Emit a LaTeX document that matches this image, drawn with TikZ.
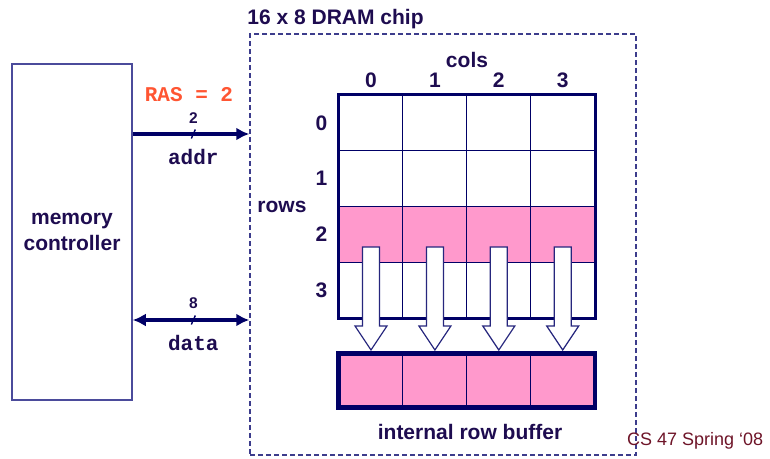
\documentclass[tikz,border=0pt]{standalone}
\usepackage{fontspec}
\setmainfont{Liberation Sans}
\setmonofont{Liberation Mono}
\usepackage{tikz}
\usetikzlibrary{arrows.meta}
\usetikzlibrary{positioning,calc}
\definecolor{chipnavy}{RGB}{0,0,102}
\definecolor{textnavy}{RGB}{30,12,80}
\definecolor{cellpink}{RGB}{255,153,204}
\definecolor{rasred}{RGB}{255,85,50}
\definecolor{boxblue}{RGB}{75,75,155}
\definecolor{dashblue}{RGB}{60,60,140}
\definecolor{footred}{RGB}{110,20,40}
\tikzset{
	every node/.style={font=\bfseries\fontsize{21}{26}\selectfont,text=textnavy,inner sep=0pt}
}
\tikzset{
	cell/.style={draw=chipnavy,line width=1pt,minimum width=63.9pt,minimum height=55.75pt},
	hot/.style={fill=cellpink}
}
\tikzset{
	bus/.style={draw=chipnavy,line width=3.5pt,>={Latex[length=13pt,width=13pt]}},
	tick/.style={draw=chipnavy,line width=1.4pt},
	wires/.style={font=\bfseries\fontsize{15.5}{17}\selectfont},
	sig/.style={font=\ttfamily\bfseries\fontsize{21}{24}\selectfont},
	pump/.style={draw=chipnavy!85!white,line width=1.2pt,fill=white,line join=miter}
}

\begin{document}
\begin{tikzpicture}[x=1pt,y=-1pt]
	\useasboundingbox (0,0) rectangle (770,458);
	\node[draw=boxblue,line width=1.5pt,minimum width=120pt,minimum height=336pt,align=center] (mc) at (72,232) {memory\\controller};
	\node[draw=dashblue,line width=1.5pt,dash pattern=on 5pt off 3pt,minimum width=386pt,minimum height=421pt] (chip) at (443,244.5) {};
	\node[anchor=base west] (title) at ([xshift=-2pt,yshift=9pt]chip.north west) {16 x 8 DRAM chip};
	\foreach \r/\f in {0/white,1/white,2/cellpink,3/white}
		\foreach \c in {0,...,3}
			\node[cell,fill=\f] (c\r\c) at ({371+63.9*\c},{122.9+55.75*\r}) {};
	\draw[chipnavy,line width=3.3pt] (c00.north west) rectangle (c33.south east);
	\foreach \c in {0,...,3}
		\node[cell,hot,minimum height=53pt] (b\c) at ({371+63.9*\c},380.5) {};
	\draw[chipnavy,line width=4.5pt] (b0.north west) rectangle (b3.south east);
	\foreach \c in {0,...,3}
		\node (k\c) [above=7pt of c0\c] {\c};
	\foreach \r in {0,...,3}
		\node (r\r) [left=11pt of c\r0] {\r};
	\node (cols) at (467,60) {cols};
	\node (rows) at (282,207) {rows};
	\foreach \x in {371,434.9,498.8,562.7}
		\draw[pump] ({\x-8.5},247) -- ({\x+8.5},247) -- ({\x+8.5},326) -- ({\x+16},326) -- (\x,350) -- ({\x-16},326) -- ({\x-8.5},326) -- cycle;
	\draw[bus,->] ([yshift=98pt]mc.east) -- coordinate[pos=0.52] (amid) ([yshift=98pt]mc.east -| chip.west);
	\draw[bus,<->] ([yshift=-88pt]mc.east) -- coordinate[pos=0.52] (dmid) ([yshift=-88pt]mc.east -| chip.west);
	\draw[tick] ([shift={(-2,4.5)}]amid) -- ([shift={(2,-4.5)}]amid);
	\draw[tick] ([shift={(-2,4.5)}]dmid) -- ([shift={(2,-4.5)}]dmid);
	\node[wires] (aw) [above=10pt of amid] {2};
	\node[wires] (dw) [above=11pt of dmid] {8};
	\node[sig] (addr) [below=15pt of amid] {addr};
	\node[sig] (data) [below=15pt of dmid] {data};
	\node[sig,text=rasred] (ras) at (189,95) {RAS = 2};
	\node (buf) at (470,432) {internal row buffer};
	\node[anchor=base west,font=\mdseries\fontsize{18}{22}\selectfont,text=footred] (foot) at (627,445) {CS 47 Spring ‘08};
\end{tikzpicture}
\end{document}
